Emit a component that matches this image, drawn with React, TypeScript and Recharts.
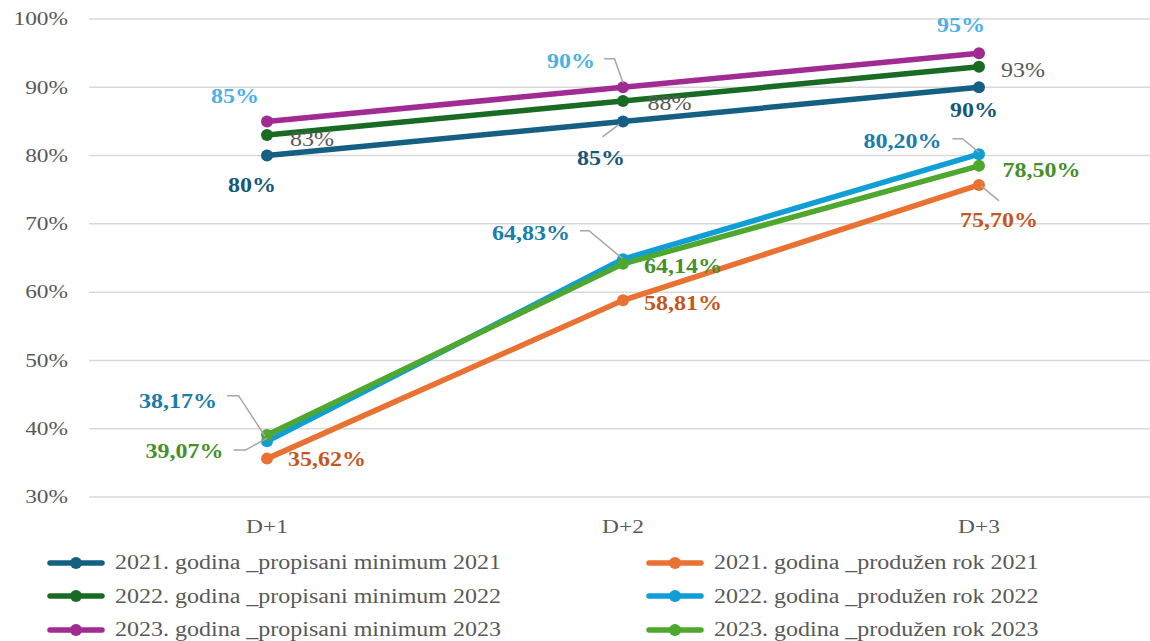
import React from 'react';
import { LineChart, Line, XAxis, YAxis, CartesianGrid, Legend, LabelList } from 'recharts';

const categories = ['D+1', 'D+2', 'D+3'];
const yTicks = [30, 40, 50, 60, 70, 80, 90, 100];

const propisani2021 = [80, 85, 90];
const propisani2022 = [83, 88, 93];
const propisani2023 = [85, 90, 95];
const produzen2021 = [35.62, 58.81, 75.7];
const produzen2022 = [38.17, 64.83, 80.2];
const produzen2023 = [39.07, 64.14, 78.5];

const seriesNames = [
  '2021. godina _propisani minimum 2021',
  '2022. godina _propisani minimum 2022',
  '2023. godina _propisani minimum 2023',
  '2021. godina _produžen rok 2021',
  '2022. godina _produžen rok 2022',
  '2023. godina _produžen rok 2023',
];

const data = categories.map((cat, i) => ({
  cat,
  p2021: propisani2021[i],
  p2022: propisani2022[i],
  p2023: propisani2023[i],
  q2021: produzen2021[i],
  q2022: produzen2022[i],
  q2023: produzen2023[i],
}));

const FONT = '"Liberation Serif", "Times New Roman", serif';
const TEXT = '#595959';
const STRETCH = 1.2; // source text is rendered slightly wide

type Spot = { dx: number; dy: number; anchor: 'start' | 'middle' | 'end'; leader?: number[][] };

type Series = {
  key: string;
  name: string;
  color: string;
  labelColor: string;
  bold: boolean;
  decimals: boolean;
  spots: Spot[];
};

// drawing order: extended-deadline series first, minimums on top
const series: Series[] = [
  {
    key: 'q2021', name: seriesNames[3], color: '#E97132', labelColor: '#C4581E', bold: true, decimals: true,
    spots: [
      { dx: 21, dy: 1, anchor: 'start' },
      { dx: 21, dy: 2.5, anchor: 'start' },
      { dx: 20, dy: 35, anchor: 'middle', leader: [[2, 1], [20, 16]] },
    ],
  },
  {
    key: 'q2022', name: seriesNames[4], color: '#0F9ED5', labelColor: '#1A7DAA', bold: true, decimals: true,
    spots: [
      { dx: -50, dy: -40, anchor: 'end', leader: [[-40, -45.5], [-28.5, -45.5], [-2, -5]] },
      { dx: -53, dy: -26, anchor: 'end', leader: [[-43, -28.5], [-34, -28.5], [-1, -1]] },
      { dx: -37.5, dy: -13, anchor: 'end', leader: [[-26.5, -15.5], [-16.5, -15.5], [0, -2]] },
    ],
  },
  {
    key: 'q2023', name: seriesNames[5], color: '#4EA72E', labelColor: '#46902B', bold: true, decimals: true,
    spots: [
      { dx: -43.5, dy: 16, anchor: 'end', leader: [[-33.5, 15], [-21.5, 15], [0, 3]] },
      { dx: 21, dy: 2.5, anchor: 'start' },
      { dx: 23.5, dy: 4, anchor: 'start' },
    ],
  },
  {
    key: 'p2021', name: seriesNames[0], color: '#156082', labelColor: '#17587A', bold: true, decimals: false,
    spots: [
      { dx: -15, dy: 30, anchor: 'middle' },
      { dx: -22, dy: 36.5, anchor: 'middle', leader: [[-20.5, 15.5], [-4, 3]] },
      { dx: -5, dy: 22.5, anchor: 'middle' },
    ],
  },
  {
    key: 'p2022', name: seriesNames[1], color: '#196B24', labelColor: TEXT, bold: false, decimals: false,
    spots: [
      { dx: 23, dy: 4, anchor: 'start' },
      { dx: 24.5, dy: 2, anchor: 'start' },
      { dx: 22, dy: 3, anchor: 'start' },
    ],
  },
  {
    key: 'p2023', name: seriesNames[2], color: '#A02B93', labelColor: '#4DB1E5', bold: true, decimals: false,
    spots: [
      { dx: -32, dy: -25, anchor: 'middle' },
      { dx: -52, dy: -26, anchor: 'middle', leader: [[-19, -28.5], [-8.5, -28.5], [0, -4.5]] },
      { dx: -18, dy: -27.5, anchor: 'middle' },
    ],
  },
];

const legendLeft = ['p2021', 'p2022', 'p2023'];
const legendRight = ['q2021', 'q2022', 'q2023'];

const fmt = (v: number, decimals: boolean) =>
  decimals ? `${v.toFixed(2).replace('.', ',')}%` : `${Math.round(v)}%`;

const makeLabel = (s: Series) => (props: any) => {
  const { x, y, value, index } = props;
  const spot = s.spots[index];
  if (!spot || x == null || y == null) return null;
  return (
    <g>
      {spot.leader && (
        <polyline
          points={spot.leader.map(([a, b]) => `${x + a},${y + b}`).join(' ')}
          fill="none"
          stroke="#A6A6A6"
          strokeWidth={1.5}
        />
      )}
      <text
        transform={`translate(${x + spot.dx},${y + spot.dy}) scale(${STRETCH},1)`}
        textAnchor={spot.anchor}
        dominantBaseline="central"
        fill={s.labelColor}
        fontWeight={s.bold ? 700 : 400}
        fontSize={20}
        fontFamily={FONT}
      >
        {fmt(Number(value), s.decimals)}
      </text>
    </g>
  );
};

const YTick = (props: any) => {
  const { x, y, payload } = props;
  return (
    <text
      transform={`translate(${x},${y}) scale(${STRETCH},1)`}
      textAnchor="end"
      dominantBaseline="central"
      fill={TEXT}
      fontSize={19.5}
      fontFamily={FONT}
    >
      {`${payload.value}%`}
    </text>
  );
};

const XTick = (props: any) => {
  const { x, y, payload } = props;
  return (
    <text
      transform={`translate(${x},${y}) scale(${STRETCH},1)`}
      textAnchor="middle"
      dominantBaseline="central"
      fill={TEXT}
      fontSize={19.5}
      fontFamily={FONT}
    >
      {payload.value}
    </text>
  );
};

const LegendItem = ({ s, left, top }: { s: Series; left: number; top: number }) => (
  <div style={{ position: 'absolute', left, top, height: 34, display: 'flex', alignItems: 'center', whiteSpace: 'nowrap' }}>
    <svg width={58} height={14} style={{ display: 'block' }}>
      <line x1={3} y1={7} x2={55} y2={7} stroke={s.color} strokeWidth={5.5} strokeLinecap="round" />
      <circle cx={29} cy={7} r={6} fill={s.color} />
    </svg>
    <span
      style={{
        marginLeft: 10,
        fontFamily: FONT,
        fontSize: 20,
        color: TEXT,
        display: 'inline-block',
        transform: `scaleX(${STRETCH})`,
        transformOrigin: 'left center',
      }}
    >
      {s.name}
    </span>
  </div>
);

const renderLegend = () => {
  const byKey = (k: string) => series.find((s) => s.key === k)!;
  return (
    <div style={{ position: 'relative', width: 1160, height: 114 }}>
      {legendLeft.map((k, i) => (
        <LegendItem key={k} s={byKey(k)} left={47} top={18.5 + i * 33.5} />
      ))}
      {legendRight.map((k, i) => (
        <LegendItem key={k} s={byKey(k)} left={646} top={18.5 + i * 33.5} />
      ))}
    </div>
  );
};

export default function App() {
  return (
    <div style={{ position: 'absolute', left: 0, top: 0, width: 1150, height: 641, overflow: 'hidden', background: '#fff' }}>
      <LineChart
        width={1160}
        height={641}
        data={data}
        margin={{ top: 19, right: 3, bottom: 0, left: 19 }}
        style={{ fontFamily: FONT }}
      >
        <CartesianGrid vertical={false} stroke="#D9D9D9" strokeWidth={1.5} />
        <XAxis
          dataKey="cat"
          height={30}
          axisLine={false}
          tickLine={false}
          tickSize={6}
          tickMargin={24}
          padding={{ left: 178, right: 178 }}
          tick={<XTick />}
        />
        <YAxis
          width={70}
          domain={[30, 100]}
          ticks={yTicks}
          axisLine={false}
          tickLine={false}
          tickSize={6}
          tickMargin={15}
          tick={<YTick />}
        />
        <Legend
          verticalAlign="bottom"
          content={renderLegend}
          wrapperStyle={{ left: 0, bottom: 0, width: 1160, height: 114 }}
        />
        {series.map((s) => (
          <Line
            key={s.key}
            dataKey={s.key}
            name={s.name}
            type="linear"
            stroke={s.color}
            strokeWidth={5.5}
            dot={{ r: 6, fill: s.color, stroke: s.color, strokeWidth: 0 }}
            activeDot={false}
            isAnimationActive={false}
          >
            <LabelList dataKey={s.key} content={makeLabel(s)} />
          </Line>
        ))}
      </LineChart>
    </div>
  );
}
